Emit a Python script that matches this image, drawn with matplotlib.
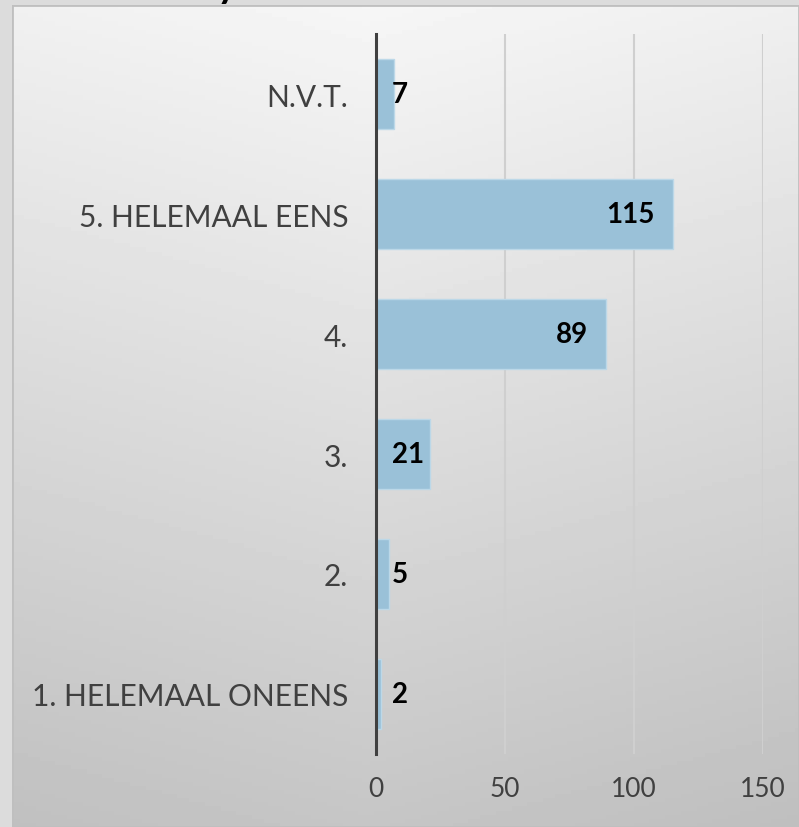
import numpy as np
import matplotlib.pyplot as plt
from matplotlib.patches import Rectangle

categories = ["1. HELEMAAL ONEENS", "2.", "3.", "4.", "5. HELEMAAL EENS", "N.V.T."]
counts = [2, 5, 21, 89, 115, 7]
xticks = [0, 50, 100, 150]

plt.rcParams['font.family'] = ['Lato', 'DejaVu Sans']

fig = plt.figure(figsize=(7.99, 8.28), dpi=100)
fig.patch.set_facecolor('#dcdcdc')

# gradient panel behind the chart
bg = fig.add_axes([12 / 799, 0, 1 - 12 / 799, 1 - 6 / 828], zorder=0)
yy, xx = np.mgrid[0:1:200j, 0:1:200j]
shade = 0.965 - 0.19 * yy - 0.05 * np.abs(xx - 0.45)
bg.imshow(shade, cmap='gray', vmin=0, vmax=1, aspect='auto', extent=[0, 1, 0, 1], origin='upper')
bg.add_patch(Rectangle((0, 0), 1, 1, transform=bg.transAxes, fill=False, edgecolor='#bfbfbf', lw=2))
bg.set_axis_off()

# cut-off title at the top edge
fig.text(0.272, 1.003, "y", fontsize=28, fontweight='bold', color='black', va='baseline')

ax = fig.add_axes([376 / 799, 1 - 755 / 828, (763 - 376) / 799, (755 - 35) / 828], zorder=1)
ax.patch.set_alpha(0)

ypos = np.arange(len(categories))
ax.barh(ypos, counts, height=0.59, color='#9ac1d8', edgecolor='#bcd8e8', linewidth=1, zorder=2)

# labels sit inside the bar end, but never closer to the axis than ~6
for y, v in zip(ypos, counts):
    if v >= 30:
        ax.annotate(str(v), (v, y), xytext=(-13, 0), textcoords='offset points',
                    ha='right', va='center', fontsize=20, fontweight='bold', color='black')
    else:
        ax.annotate(str(v), (6.2, y), ha='left', va='center',
                    fontsize=20, fontweight='bold', color='black')

ax.set_xlim(0, 150)
ax.set_ylim(-0.5, 5.5)
ax.set_xticks(xticks)
ax.set_yticks(ypos)
ax.set_yticklabels(categories)
ax.grid(axis='x', color='#cfcfcf', linewidth=1.5, zorder=1)
ax.set_axisbelow(True)

for s in ['top', 'right', 'bottom']:
    ax.spines[s].set_visible(False)
ax.spines['left'].set_color('#404040')
ax.spines['left'].set_linewidth(2.2)
ax.spines['left'].set_zorder(3)

ax.tick_params(axis='y', length=0, pad=20, labelsize=21.5, labelcolor='#404040')
ax.tick_params(axis='x', length=0, pad=16, labelsize=19, labelcolor='#404040')

fig.savefig('out.png', dpi=100, facecolor=fig.get_facecolor())
